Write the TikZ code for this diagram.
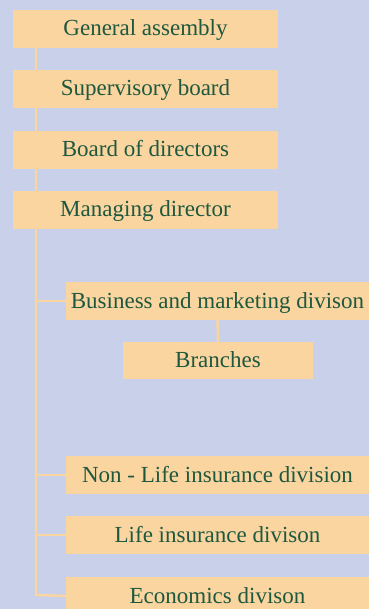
\documentclass[tikz,border=0pt]{standalone}
\usepackage{fontspec}
\setmainfont{Liberation Serif}
\definecolor{bg}{RGB}{201,208,233}
\definecolor{boxfill}{RGB}{250,213,160}
\definecolor{txt}{RGB}{30,88,62}
\begin{document}
\begin{tikzpicture}[x=1pt,y=-1pt,
  orgbox/.style={fill=boxfill,draw=none,text=txt,inner sep=0pt,
    font=\fontsize{23}{26}\selectfont,minimum height=38pt,
    text height=18pt,text depth=4pt},
  topbox/.style={orgbox,minimum width=265pt},
  divbox/.style={orgbox,minimum width=303pt},
  link/.style={draw=boxfill,line width=2.4pt}]
\fill[bg] (0,0) rectangle (369,609);
\clip (0,0) rectangle (369,609);
\useasboundingbox (0,0) rectangle (369,609);
\coordinate (tEnd) at (36,595);
\node[topbox] (ga) at (145.5,29) {General assembly};
\node[topbox] (sb) at (145.5,89) {Supervisory board};
\node[topbox] (bd) at (145.5,150) {Board of directors};
\node[topbox] (md) at (145.5,210) {Managing director};
\node[divbox] (bus) at (217.5,301) {Business and marketing divison};
\node[orgbox,minimum width=190pt,minimum height=37pt] (br) at (218,360.5) {Branches};
\node[divbox] (nl) at (217.5,475) {Non - Life insurance division};
\node[divbox] (li) at (217.5,535) {Life insurance divison};
\node[divbox] (eco) at (217.5,596) {Economics divison};
\path[link] (ga.south -| tEnd) -- (tEnd) -- (eco.west);
\path[link] (tEnd |- bus.west) -- (bus.west);
\path[link] (tEnd |- nl.west) -- (nl.west);
\path[link] (tEnd |- li.west) -- (li.west);
\path[link] (bus.south) -- (br.north);
\end{tikzpicture}
\end{document}
